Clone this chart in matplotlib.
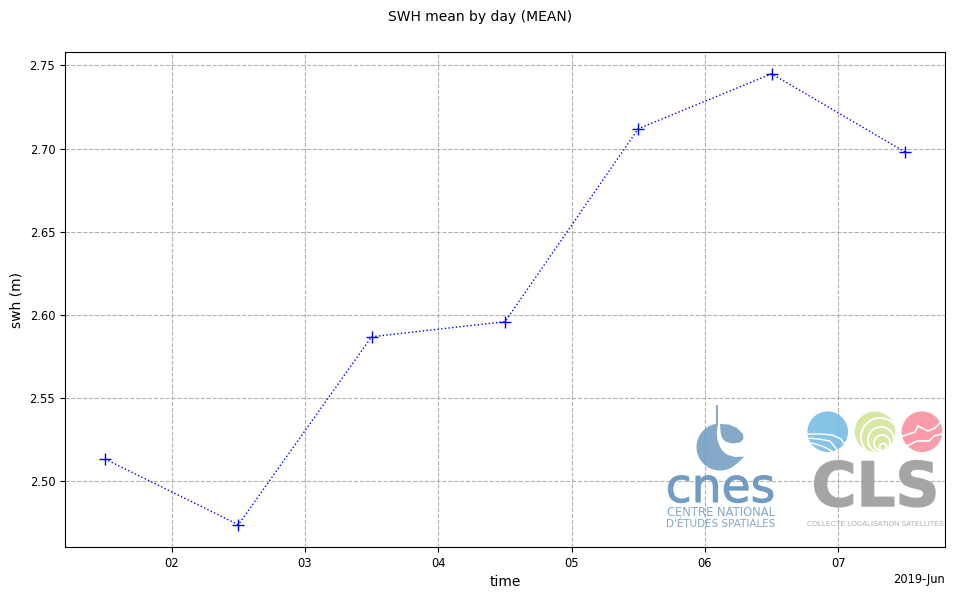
import datetime as dt
import numpy as np
import matplotlib
matplotlib.use("Agg")
import matplotlib.pyplot as plt
import matplotlib.dates as mdates
from matplotlib.patches import Circle, Polygon
import matplotlib.patheffects as pe

days = [dt.datetime(2019, 6, d, 12) for d in range(1, 8)]
swh = [2.5135, 2.474, 2.587, 2.596, 2.712, 2.745, 2.698]
title = "SWH mean by day (MEAN)"
xlabel = "time"
ylabel = "swh (m)"
offset_label = "2019-Jun"

W, H = 955, 599
fig = plt.figure(figsize=(W / 100, H / 100), dpi=100)
ax = fig.add_axes([65 / W, 1 - 547 / H, (945 - 65) / W, (547 - 52) / H])
ax.plot(days, swh, color="blue", linestyle=":", linewidth=1, marker="+", markersize=9)
ax.grid(True, color="#b0b0b0", linestyle="--", linewidth=0.8)
ax.set_axisbelow(True)
ax.xaxis.set_major_locator(mdates.DayLocator(bymonthday=range(2, 8)))
ax.xaxis.set_major_formatter(mdates.DateFormatter("%d"))
ax.set_yticks(np.arange(2.50, 2.76, 0.05))
ax.yaxis.set_major_formatter(matplotlib.ticker.FormatStrFormatter("%.2f"))
ax.tick_params(labelsize=8.3)
ax.set_xlabel(xlabel, fontsize=10, labelpad=3.5)
ax.set_ylabel(ylabel, fontsize=10)
ax.set_ylim(2.4606, 2.7581)
fig.text(480 / W, 1 - 17 / H, title, ha="center", va="center", fontsize=10)
fig.text(945 / W, 1 - 580 / H, offset_label, ha="right", va="center", fontsize=8.3)

# Logo overlay, laid out in pixel coordinates of the figure
lg = fig.add_axes([0, 0, 1, 1], facecolor="none")
lg.set_xlim(0, W)
lg.set_ylim(H, 0)
lg.axis("off")

CNES = "#6f9ac0"
SKY = "#72b9e2"
GREEN = "#cfe494"
PINK = "#fa8a9a"
GREY = "#a4a4a4"
A = 0.85

# CNES emblem
ang = np.radians(np.linspace(-94, -310, 60))
arc = np.c_[720 + 23.5 * np.cos(ang), 447 + 23.5 * np.sin(ang)]
body = np.vstack([
    [[716, 405], [718, 405], [718, 424], [716.7, 433], [717.5, 440], [720, 447], [723.5, 452],
     [728, 455], [735, 457], [744, 456.5], [740, 461]],
    arc[::-1],
    [[716, 424]],
])
lg.add_patch(Polygon(body, closed=True, fc=CNES, ec="none", alpha=A))
drop = [(720, 424), (729, 424.5), (737, 428), (743, 434), (743.5, 439), (740, 442.5), (733, 443.5),
        (726, 442), (722, 438), (720.5, 432)]
lg.add_patch(Polygon(drop, closed=True, fc=CNES, ec="none", alpha=A))
lg.text(720.5, 502, "cnes", color=CNES, fontsize=34, ha="center", va="baseline", alpha=A,
        path_effects=[pe.withStroke(linewidth=0.8, foreground=CNES)])
lg.text(720.5, 516.5, "CENTRE NATIONAL", color=CNES, fontsize=8.3, ha="center", va="baseline", alpha=A)
lg.text(720.5, 527, "D'ÉTUDES SPATIALES", color=CNES, fontsize=7.5, ha="center", va="baseline", alpha=A)

# CLS emblems
lg.add_patch(Circle((827.7, 431.7), 20.3, fc=SKY, ec="none", alpha=A))
lg.add_patch(Circle((875, 431.7), 20.3, fc=GREEN, ec="none", alpha=A))
lg.add_patch(Circle((922, 431.7), 20.3, fc=PINK, ec="none", alpha=A))
lg.plot([808, 820, 832, 841, 846], [434, 434, 435, 439, 446], color="white", lw=1)
lg.plot([808, 818, 830, 838], [438, 439, 441, 451], color="white", lw=1)
lg.plot([812, 822, 832], [443, 446, 451], color="white", lw=1)
clip = Circle((875, 431.7), 20.3, transform=lg.transData)
for r, (cx, cy) in zip([19, 13, 8, 3.5], [(880, 437), (881, 440), (882, 443), (883, 447)]):
    ring = Circle((cx, cy), r, fc="none", ec="white", lw=1.4)
    lg.add_patch(ring)
    ring.set_clip_path(clip)
lg.plot([903, 915, 918, 928, 935, 942], [436, 432, 426, 431, 428, 421], color="white", lw=1.2)
lg.plot([907, 917, 929, 934, 942], [446, 441, 441, 436, 434], color="white", lw=1.2)
lg.text(875.5, 506, "CLS", color=GREY, fontsize=44, fontweight="bold", ha="center", va="baseline",
        alpha=A, path_effects=[pe.withStroke(linewidth=1.2, foreground=GREY)])
lg.text(875, 526, "COLLECTE LOCALISATION SATELLITES", color="#adadad", fontsize=5.25, ha="center",
        va="baseline", family="Liberation Sans")

fig.savefig("out.png", dpi=100)
